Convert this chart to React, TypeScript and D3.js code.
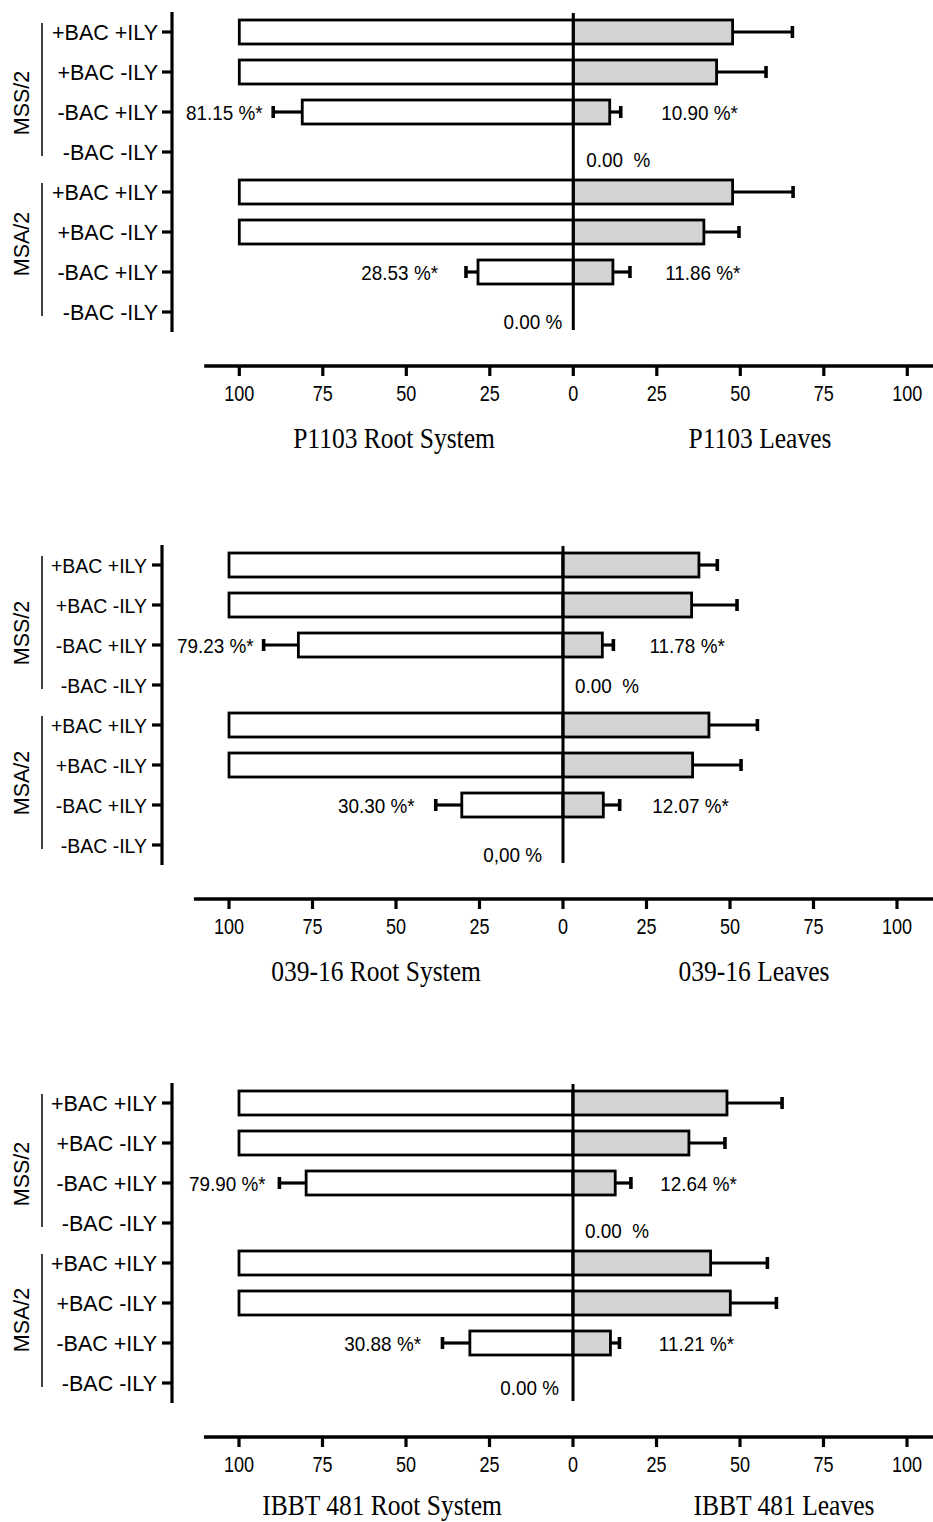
import React from "react";
import * as d3 from "d3";

// row labels, top to bottom (two media groups of four treatments)
const treatments = ["+BAC +ILY", "+BAC -ILY", "-BAC +ILY", "-BAC -ILY"];
const media = ["MSS/2", "MSA/2"];
const rows = media.flatMap(m => treatments.map(t => m + "|" + t));
const xTicks = [-100, -75, -50, -25, 0, 25, 50, 75, 100];

const strains = ["P1103", "039-16", "IBBT 481"];

// % values (root = left side, leaves = right side)
const rootP1103 = [100, 100, 81.15, 0, 100, 100, 28.53, 0];
const rootErrP1103 = [0, 0, 8.7, 0, 0, 0, 3.6, 0];
const leafP1103 = [47.7, 42.9, 10.9, 0, 47.7, 39.1, 11.86, 0];
const leafErrP1103 = [17.9, 14.8, 3.3, 0, 18.1, 10.5, 5.1, 0];

const root03916 = [100, 100, 79.23, 0, 100, 100, 30.3, 0];
const rootErr03916 = [0, 0, 10.4, 0, 0, 0, 7.8, 0];
const leaf03916 = [40.7, 38.5, 11.78, 0, 43.7, 38.8, 12.07, 0];
const leafErr03916 = [5.5, 13.6, 3.3, 0, 14.5, 14.5, 4.9, 0];

const rootIBBT = [100, 100, 79.9, 0, 100, 100, 30.88, 0];
const rootErrIBBT = [0, 0, 8.0, 0, 0, 0, 8.2, 0];
const leafIBBT = [46.1, 34.7, 12.64, 0, 41.2, 47.1, 11.21, 0];
const leafErrIBBT = [16.5, 10.8, 4.7, 0, 17.0, 13.8, 2.7, 0];

// text of the "zero" annotations: [leaves side, root side]
const zeroLabels = [
  ["0.00\u00a0\u00a0%", "0.00 %"],
  ["0.00\u00a0\u00a0%", "0,00 %"],
  ["0.00\u00a0\u00a0%", "0.00 %"],
];

const seriesData = [
  { root: rootP1103, rootErr: rootErrP1103, leaf: leafP1103, leafErr: leafErrP1103 },
  { root: root03916, rootErr: rootErr03916, leaf: leaf03916, leafErr: leafErr03916 },
  { root: rootIBBT, rootErr: rootErrIBBT, leaf: leafIBBT, leafErr: leafErrIBBT },
];

// layout of each panel (pixels / annotation anchors in axis units)
const layout = [
  { top: 12, axisX: 172, zero: 573.3, catEnd: 158, catFont: 21.5, rootTitle: 394, leafTitle: 760, titleDy: 82,
    rootLab: [93, 40.5], leafLab: [26.3, 27.5], zr: [13, 7], zl: [-11, 9], gOff: [11, -8] },
  { top: 545, axisX: 162, zero: 563, catEnd: 147, catFont: 19.5, rootTitle: 376, leafTitle: 754, titleDy: 82,
    rootLab: [92.6, 44.4], leafLab: [25.9, 26.7], zr: [12, 0], zl: [-21, 9.5], gOff: [8, -2] },
  { top: 1083, axisX: 172, zero: 573, catEnd: 157, catFont: 21.5, rootTitle: 382, leafTitle: 784, titleDy: 78,
    rootLab: [92, 45.5], leafLab: [26.1, 25.7], zr: [12, 7], zl: [-14, 4.5], gOff: [11, -3] },
];

const sans = "'Liberation Sans', Arial, Helvetica, sans-serif";
const serif = "'Liberation Serif', 'Times New Roman', serif";
const GREY = "#d3d3d3";

const Panel = ({ idx }: { idx: number }) => {
  const L = layout[idx];
  const d = seriesData[idx];
  const unit = 3.34;
  const x = d3.scaleLinear().domain([-100, 100]).range([L.zero - 100 * unit, L.zero + 100 * unit]);
  const y = d3.scalePoint<string>().domain(rows).range([L.top, L.top + 320]).padding(0.5);
  const bottom = L.top + 320;
  const axisY = bottom + 34;
  const barH = 24;
  const cy = (i: number) => y(rows[i]) as number;

  const labelRows = [2, 6];

  return (
    <g>
      {/* category axis */}
      <line x1={L.axisX} x2={L.axisX} y1={L.top} y2={bottom} stroke="#000" strokeWidth={3.2} />
      {rows.map((r, i) => (
        <g key={r}>
          <line x1={L.axisX - 10} x2={L.axisX} y1={cy(i)} y2={cy(i)} stroke="#000" strokeWidth={3.2} />
          <text x={L.catEnd} y={cy(i) + 7.5} textAnchor="end" fontFamily={sans} fontSize={L.catFont}>
            {r.split("|")[1]}
          </text>
        </g>
      ))}
      {media.map((m, g) => {
        const y0 = cy(g * 4) - 9;
        const y1 = cy(g * 4 + 3) + 4;
        const mid = (cy(g * 4) + cy(g * 4 + 3)) / 2 + L.gOff[g];
        return (
          <g key={m}>
            <line x1={42} x2={42} y1={y0} y2={y1} stroke="#000" strokeWidth={1.5} />
            <text transform={`translate(29,${mid}) rotate(-90)`} textAnchor="middle"
              fontFamily={sans} fontSize={21.5}>{m}</text>
          </g>
        );
      })}

      {/* root bars (left) */}
      {d.root.map((v, i) => v > 0 && (
        <g key={"r" + i}>
          {d.rootErr[i] > 0 && (
            <g stroke="#000" strokeWidth={3.2}>
              <line x1={x(-v)} x2={x(-(v + d.rootErr[i]))} y1={cy(i)} y2={cy(i)} />
              <line x1={x(-(v + d.rootErr[i]))} x2={x(-(v + d.rootErr[i]))} y1={cy(i) - 6} y2={cy(i) + 6} strokeWidth={3.6} />
            </g>
          )}
          <rect x={x(-v)} y={cy(i) - barH / 2} width={x(0) - x(-v)} height={barH}
            fill="#fff" stroke="#000" strokeWidth={2.8} />
        </g>
      ))}

      {/* leaves bars (right) */}
      {d.leaf.map((v, i) => v > 0 && (
        <g key={"l" + i}>
          <g stroke="#000" strokeWidth={3.2}>
            <line x1={x(v)} x2={x(v + d.leafErr[i])} y1={cy(i)} y2={cy(i)} />
            <line x1={x(v + d.leafErr[i])} x2={x(v + d.leafErr[i])} y1={cy(i) - 6} y2={cy(i) + 6} strokeWidth={3.6} />
          </g>
          <rect x={x(0)} y={cy(i) - barH / 2} width={x(v) - x(0)} height={barH}
            fill={GREY} stroke="#000" strokeWidth={2.8} />
        </g>
      ))}

      {/* zero line */}
      <line x1={x(0)} x2={x(0)} y1={L.top + 1} y2={bottom - 2} stroke="#000" strokeWidth={3} />

      {/* value annotations */}
      {labelRows.map((i, k) => (
        <g key={"a" + i} fontFamily={sans} fontSize={21}>
          <text transform={`translate(${x(-L.rootLab[k])},${cy(i) + 7.5}) scale(0.9,1)`} textAnchor="end">
            {d.root[i].toFixed(2) + " %*"}
          </text>
          <text transform={`translate(${x(L.leafLab[k])},${cy(i) + 7.5}) scale(0.9,1)`} textAnchor="start">
            {d.leaf[i].toFixed(2) + " %*"}
          </text>
        </g>
      ))}
      <g fontFamily={sans} fontSize={21}>
        <text transform={`translate(${x(0) + L.zr[0]},${cy(3) + L.zr[1] + 7.5}) scale(0.9,1)`} textAnchor="start">
          {zeroLabels[idx][0]}
        </text>
        <text transform={`translate(${x(0) + L.zl[0]},${cy(7) + L.zl[1] + 7.5}) scale(0.9,1)`} textAnchor="end">
          {zeroLabels[idx][1]}
        </text>
      </g>

      {/* value axis */}
      <line x1={x(-110.5)} x2={933} y1={axisY} y2={axisY} stroke="#000" strokeWidth={3.6} />
      {xTicks.map(t => (
        <g key={"t" + t}>
          <line x1={x(t)} x2={x(t)} y1={axisY} y2={axisY + 10} stroke="#000" strokeWidth={3.2} />
          <text transform={`translate(${x(t)},${axisY + 35}) scale(0.82,1)`} textAnchor="middle"
            fontFamily={sans} fontSize={22}>{Math.abs(t)}</text>
        </g>
      ))}
      <text transform={`translate(${L.rootTitle},${axisY + L.titleDy}) scale(0.88,1)`} textAnchor="middle"
        fontFamily={serif} fontSize={29}>{strains[idx] + " Root System"}</text>
      <text transform={`translate(${L.leafTitle},${axisY + L.titleDy}) scale(0.88,1)`} textAnchor="middle"
        fontFamily={serif} fontSize={29}>{strains[idx] + " Leaves"}</text>
    </g>
  );
};

export default function App() {
  return (
    <svg width={933} height={1522} style={{ position: "absolute", left: 0, top: 0, background: "#fff" }}>
      <rect width={933} height={1522} fill="#fff" />
      {strains.map((s, i) => <Panel key={s} idx={i} />)}
    </svg>
  );
}
